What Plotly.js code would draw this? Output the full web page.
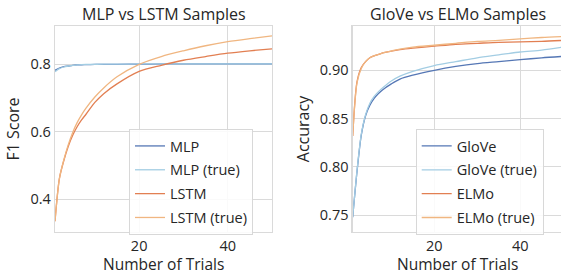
<!DOCTYPE html>
<html>
<head>
<meta charset="utf-8">
<script src="https://cdn.plot.ly/plotly-3.0.1.min.js"></script>
<style>html,body{margin:0;padding:0;background:#fff;}#chart{width:561px;height:274px;}</style>
</head>
<body>
<div id="chart"></div>
<script>
// Number of trials (x positions of the read-off samples)
const trials = [1, 2, 3, 4, 5, 6, 7, 8, 10, 12, 15, 20, 25, 30, 35, 40, 45, 50];

// Left panel: F1 score
const mlp      = [0.782, 0.789, 0.793, 0.795, 0.797, 0.798, 0.7985, 0.799, 0.7995, 0.800, 0.800, 0.8005, 0.801, 0.801, 0.801, 0.801, 0.801, 0.801];
const mlpTrue  = [0.778, 0.787, 0.792, 0.795, 0.797, 0.798, 0.799, 0.7995, 0.800, 0.8005, 0.8005, 0.801, 0.8012, 0.8012, 0.8012, 0.8012, 0.8012, 0.8012];
const lstm     = [0.335, 0.462, 0.515, 0.557, 0.590, 0.615, 0.635, 0.652, 0.687, 0.713, 0.742, 0.779, 0.797, 0.812, 0.823, 0.833, 0.840, 0.846];
const lstmTrue = [0.335, 0.462, 0.517, 0.562, 0.598, 0.627, 0.650, 0.670, 0.703, 0.730, 0.763, 0.800, 0.823, 0.840, 0.855, 0.867, 0.876, 0.884];

// Right panel: accuracy
const glove     = [0.748, 0.795, 0.833, 0.853, 0.864, 0.871, 0.876, 0.880, 0.886, 0.891, 0.895, 0.900, 0.904, 0.907, 0.909, 0.911, 0.913, 0.9145];
const gloveTrue = [0.748, 0.796, 0.834, 0.854, 0.866, 0.873, 0.878, 0.882, 0.889, 0.894, 0.899, 0.905, 0.909, 0.913, 0.916, 0.919, 0.921, 0.924];
const elmo      = [0.832, 0.888, 0.903, 0.909, 0.913, 0.915, 0.9165, 0.918, 0.920, 0.9215, 0.923, 0.925, 0.927, 0.928, 0.929, 0.9295, 0.930, 0.931];
const elmoTrue  = [0.832, 0.887, 0.902, 0.909, 0.913, 0.915, 0.9165, 0.918, 0.920, 0.922, 0.924, 0.926, 0.928, 0.930, 0.931, 0.9325, 0.934, 0.935];

const leftNames  = ['MLP', 'MLP (true)', 'LSTM', 'LSTM (true)'];
const rightNames = ['GloVe', 'GloVe (true)', 'ELMo', 'ELMo (true)'];
const colors = ['#5577b5', '#a3cde3', '#e27f52', '#f0b681'];

const FONT = 'Open Sans, DejaVu Sans, sans-serif';
const TXT = '#262626';
const GRID = '#dadada';

function mk(y, i, name, xa, ya, leg) {
  return {
    x: trials, y: y, name: name, type: 'scatter', mode: 'lines',
    xaxis: xa, yaxis: ya, legend: leg, legendgroup: name,
    line: {color: colors[i], width: 1.3, shape: 'spline', smoothing: 0.8}
  };
}

const data = [
  mk(mlp, 0, leftNames[0], 'x', 'y', 'legend'),
  mk(mlpTrue, 1, leftNames[1], 'x', 'y', 'legend'),
  mk(lstm, 2, leftNames[2], 'x', 'y', 'legend'),
  mk(lstmTrue, 3, leftNames[3], 'x', 'y', 'legend'),
  mk(glove, 0, rightNames[0], 'x2', 'y2', 'legend2'),
  mk(gloveTrue, 1, rightNames[1], 'x2', 'y2', 'legend2'),
  mk(elmo, 2, rightNames[2], 'x2', 'y2', 'legend2'),
  mk(elmoTrue, 3, rightNames[3], 'x2', 'y2', 'legend2')
];

const axBase = {
  showgrid: true, gridcolor: GRID, gridwidth: 1,
  showline: true, linecolor: GRID, linewidth: 1.3, mirror: true,
  zeroline: false, ticks: '', tickfont: {family: FONT, size: 14.5, color: TXT},
  fixedrange: true
};

const legBase = {
  font: {family: FONT, size: 14.5, color: TXT},
  bgcolor: 'rgba(255,255,255,0.85)', bordercolor: '#d8d8d8', borderwidth: 1,
  tracegroupgap: 2, traceorder: 'grouped', itemwidth: 30,
  xanchor: 'left', yanchor: 'top'
};

const TFONT = {family: FONT, size: 16, color: TXT};
const XT = {family: FONT, size: 15.5, color: TXT};

const layout = {
  width: 561, height: 274,
  margin: {l: 0, r: 0, t: 0, b: 0},
  paper_bgcolor: '#ffffff', plot_bgcolor: '#ffffff',
  font: {family: FONT, color: TXT},
  showlegend: true,
  xaxis: Object.assign({}, axBase, {
    domain: [55/561, 272/561], range: [1, 50], tick0: 0, dtick: 20, anchor: 'y'
  }),
  yaxis: Object.assign({}, axBase, {
    domain: [1 - 232/274, 1 - 26/274], range: [0.303, 0.9135], tick0: 0, dtick: 0.2, anchor: 'x',
    tickformat: '.1f',
    title: {text: 'F1 Score', font: TFONT, standoff: 6}
  }),
  xaxis2: Object.assign({}, axBase, {
    domain: [352.7/561, 1], range: [1, 49.5], tick0: 0, dtick: 20, anchor: 'y2'
  }),
  yaxis2: Object.assign({}, axBase, {
    domain: [1 - 232/274, 1 - 26/274], range: [0.7327, 0.9459], tick0: 0, dtick: 0.05, anchor: 'x2',
    tickformat: '.2f',
    title: {text: 'Accuracy', font: TFONT, standoff: 6}
  }),
  legend: Object.assign({}, legBase, {x: 129/561, y: 1 - 129/274}),
  legend2: Object.assign({}, legBase, {x: 415.7/561, y: 1 - 129/274}),
  annotations: [
    {text: 'MLP vs LSTM Samples', xref: 'paper', yref: 'paper', x: 163.5/561, y: 1 - 14/274,
     xanchor: 'center', yanchor: 'middle', showarrow: false, font: TFONT},
    {text: 'GloVe vs ELMo Samples', xref: 'paper', yref: 'paper', x: 457.5/561, y: 1 - 14/274,
     xanchor: 'center', yanchor: 'middle', showarrow: false, font: TFONT},
    {text: 'Number of Trials', xref: 'paper', yref: 'paper', x: 163.5/561, y: 1 - 264/274,
     xanchor: 'center', yanchor: 'middle', showarrow: false, font: XT},
    {text: 'Number of Trials', xref: 'paper', yref: 'paper', x: 457.5/561, y: 1 - 264/274,
     xanchor: 'center', yanchor: 'middle', showarrow: false, font: XT}
  ]
};

Plotly.newPlot('chart', data, layout, {displayModeBar: false, staticPlot: true});
</script>
</body>
</html>
